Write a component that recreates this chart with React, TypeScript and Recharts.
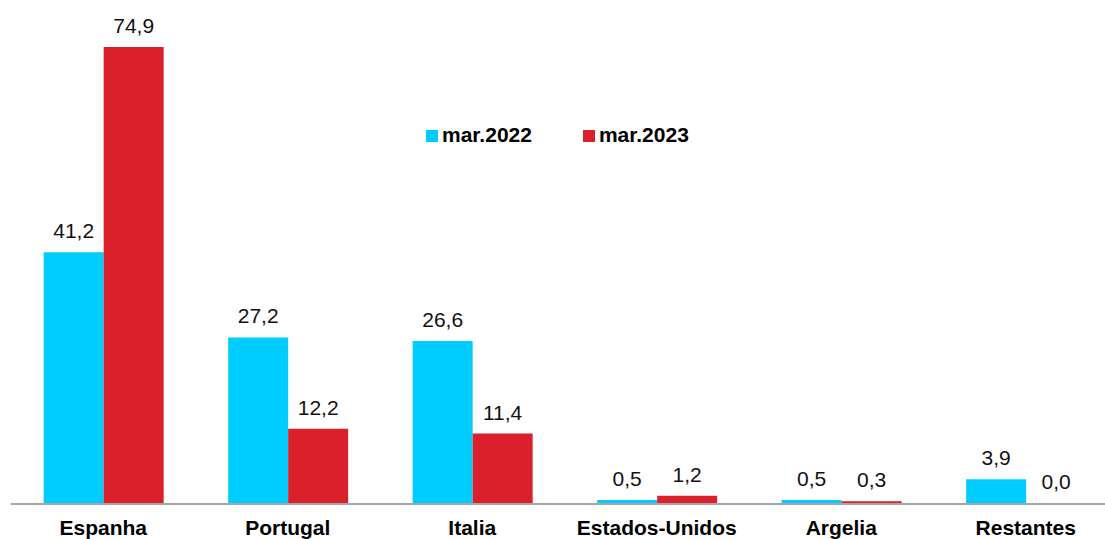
import { BarChart, Bar, XAxis, YAxis, LabelList, Legend } from 'recharts';

const paises = ['Espanha', 'Portugal', 'Italia', 'Estados-Unidos', 'Argelia', 'Restantes'];
const mar2022 = [41.2, 27.2, 26.6, 0.5, 0.5, 3.9];
const mar2023 = [74.9, 12.2, 11.4, 1.2, 0.3, 0.0];
const bordas = [0, 1, 2, 3, 4, 5, 6];

const dados = paises.map((pais, i) => ({ pais, a2022: mar2022[i], a2023: mar2023[i] }));

const AZUL = '#00CCFF';
const VERMELHO = '#DA202A';
const FONTE = '"Liberation Sans", Arial, sans-serif';
const ESTILO_ROTULO = { fill: '#111', fontSize: 21, fontFamily: FONTE };

const formatar = (v: any) => Number(v).toFixed(1).replace('.', ',');

// barras com valor zero nao geram retangulo, entao o rotulo "0,0" da serie
// vermelha e desenhado a partir da barra azul vizinha
const rotuloZero = (props: any) => {
  const { x, y, width, height, value } = props;
  if (Number(value) !== 0) return null;
  return (
    <text x={Number(x) + Number(width) * 1.5} y={Number(y) + Number(height) - 14}
      textAnchor="middle" {...ESTILO_ROTULO}>
      {formatar(value)}
    </text>
  );
};

function Legenda() {
  const itens = [
    { nome: 'mar.2022', cor: AZUL },
    { nome: 'mar.2023', cor: VERMELHO }
  ];
  return (
    <div style={{ fontFamily: FONTE, fontSize: 21, fontWeight: 'bold', lineHeight: '20px', color: '#000', whiteSpace: 'nowrap' }}>
      {itens.map((it, i) => (
        <span key={it.nome} style={{ marginLeft: i === 0 ? 0 : 51 }}>
          <span style={{ display: 'inline-block', width: 12, height: 12, background: it.cor, marginRight: 4 }} />
          {it.nome}
        </span>
      ))}
    </div>
  );
}

export default function App() {
  return (
    <div style={{ position: 'absolute', left: 0, top: 0, width: 1105, height: 539, overflow: 'hidden', background: '#fff' }}>
      <BarChart
        width={1120}
        height={539}
        data={dados}
        margin={{ top: 16, right: 2, left: 11, bottom: 5 }}
        barCategoryGap="17.7%"
        barGap={0}
      >
        <XAxis
          dataKey="pais"
          height={1}
          axisLine={false}
          tickLine={false}
          tickSize={0}
          tickMargin={17}
          interval={0}
          tick={{ fill: '#000', fontSize: 21, fontWeight: 'bold', fontFamily: FONTE }}
        />
        <XAxis
          xAxisId="bordas"
          type="number"
          domain={[0, 6]}
          ticks={bordas}
          allowDataOverflow
          height={30}
          tick={false}
          tickSize={6}
          axisLine={{ stroke: '#888888', strokeWidth: 1.5 }}
          tickLine={{ stroke: '#888888', strokeWidth: 1.5 }}
        />
        <YAxis hide domain={[0, 80]} />
        <Legend
          layout="horizontal"
          verticalAlign="middle"
          align="center"
          content={() => <Legenda />}
          wrapperStyle={{ position: 'absolute', top: 125, left: 426, width: 'auto' }}
        />
        <Bar dataKey="a2022" name="mar.2022" fill={AZUL} isAnimationActive={false}>
          <LabelList dataKey="a2022" position="top" offset={14} formatter={formatar} style={ESTILO_ROTULO} />
          <LabelList dataKey="a2023" content={rotuloZero} />
        </Bar>
        <Bar dataKey="a2023" name="mar.2023" fill={VERMELHO} isAnimationActive={false}>
          <LabelList dataKey="a2023" position="top" offset={14} formatter={formatar} style={ESTILO_ROTULO} />
        </Bar>
      </BarChart>
    </div>
  );
}
